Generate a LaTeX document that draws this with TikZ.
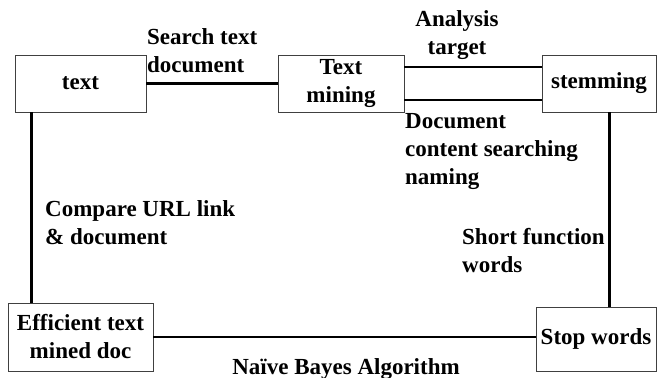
\documentclass[tikz,border=0pt]{standalone}
\usepackage{fontspec}
\setmainfont{Liberation Serif}
\begin{document}
\begin{tikzpicture}[x=1pt,y=-1pt,
  box/.style={draw=black!75,line width=0.9pt,inner sep=0pt,align=center,
    font=\fontsize{23}{28}\selectfont\bfseries},
  conn/.style={line width=2.6pt,black},
  lbl/.style={inner sep=0pt,anchor=north west,align=left,
    font=\fontsize{23}{28}\selectfont\bfseries}]
\useasboundingbox (0,0) rectangle (657,378);
\node[box,minimum width=131pt,minimum height=57pt] (txt) at (80.5,83.5) {text};
\node[box,minimum width=126pt,minimum height=57pt] (tm) at (341,83.5) {Text\\mining};
\node[box,minimum width=114pt,minimum height=57pt] (stem) at (599,83.5) {stemming};
\node[box,minimum width=145pt,minimum height=68pt] (eff) at (80.5,337) {Efficient text\\mined doc};
\node[box,minimum width=120pt,minimum height=64pt] (stop) at (596,339) {Stop words};
\draw[conn] (txt.east) -- (tm.west);
\draw[conn] ([yshift=16.5pt]tm.east) -- ([yshift=16.5pt]stem.west);
\draw[conn] ([yshift=-16.5pt]tm.east) -- ([yshift=-16.5pt]stem.west);
\draw[conn] ([xshift=17pt]txt.south west) -- ([xshift=24pt]eff.north west);
\draw[conn] ([xshift=68pt]stem.south west) -- ([xshift=74pt]stop.north west);
\draw[conn] (eff.east) -- (eff.east -| stop.west);
\node[lbl] (l1) at (147,28) {Search text\\document};
\node[lbl,align=center,anchor=north] (l2) at (457,10) {Analysis\\target};
\node[lbl] (l3) at (405,113) {Document\\content searching\\naming};
\node[lbl] (l4) at (45,200) {Compare URL link\\\& document};
\node[lbl] (l5) at (462,228) {Short function\\words};
\node[lbl,anchor=north] (l6) at (346,358) {Naïve Bayes Algorithm};
\end{tikzpicture}
\end{document}
